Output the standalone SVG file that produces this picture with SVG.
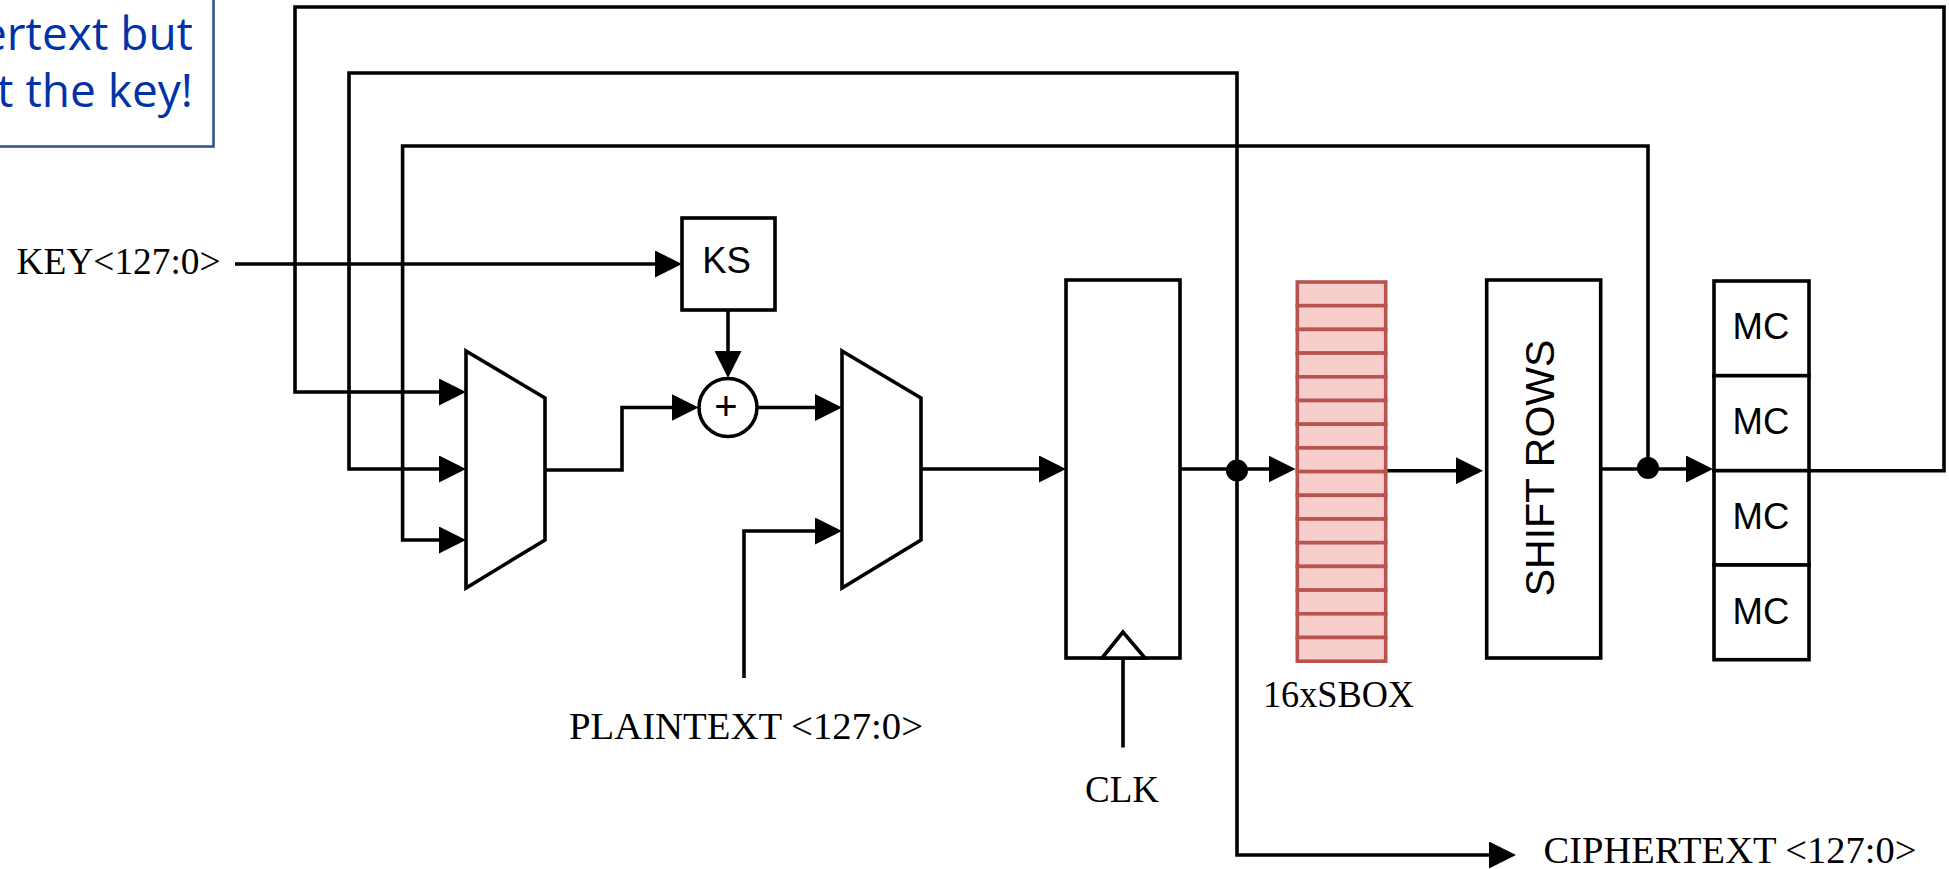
<svg xmlns="http://www.w3.org/2000/svg" width="1949" height="869" viewBox="0 0 1949 869">
<defs>
<marker id="arrow" markerUnits="userSpaceOnUse" viewBox="0 0 27 27" markerWidth="27" markerHeight="27" refX="17" refY="13.5" orient="auto"><polygon points="0,0 27,13.5 0,27" fill="#000"/></marker>
<rect id="cell" width="88.4" height="23.7" fill="#f8cecc" stroke="#b85450" stroke-width="3.6"/>
</defs>
<style>
.w{fill:none;stroke:#000;stroke-width:3.6;stroke-linejoin:miter}
.a{marker-end:url(#arrow)}
.b{fill:#fff;stroke:#000;stroke-width:3.6}
.d{fill:#000;stroke:none}
.s{font-family:"Liberation Sans",Arial,sans-serif;font-size:36.5px;fill:#000;text-anchor:middle}
.t{font-family:"Liberation Serif","Times New Roman",serif;font-size:37px;fill:#000}
.n{font-family:"Open Sans","Noto Sans",sans-serif;font-size:46px;fill:#0033a8;text-anchor:end}
</style>
<rect width="1949" height="869" fill="#fff"/>
<g id="note">
<rect x="-50" y="-50" width="263.5" height="196.5" fill="#fff" stroke="#2f5597" stroke-width="2.6"/>
<text class="n" x="193" y="50">ertext but</text>
<text class="n" x="193" y="107">t the key!</text>
</g>
<g id="connectors">
<path class="w a" d="M235 264H672"/>
<path class="w a" d="M728 310V368"/>
<path class="w a" d="M1809 470.7H1944V7H295V392H456"/>
<path class="w a" d="M1237 469V73H349V469H456"/>
<path class="w a" d="M1648 468V146H402.6V540H456"/>
<path class="w a" d="M545 470H622V407.5H688.5"/>
<path class="w a" d="M757 407.5H832"/>
<path class="w a" d="M744 678V531H832"/>
<path class="w a" d="M921 469H1056"/>
<path class="w" d="M1123 658V747.5"/>
<path class="w a" d="M1180 469H1285.5"/>
<path class="w a" d="M1237 469V855H1506"/>
<path class="w a" d="M1386 470.7H1473"/>
<path class="w a" d="M1600.7 469H1703"/>
</g>
<g id="ks"><rect class="b" x="682" y="218" width="93" height="92"/><text class="s" x="726.5" y="273">KS</text></g>
<g id="xor"><circle class="b" cx="728" cy="407.5" r="29"/><text class="s" style="font-size:40px" x="726" y="420">+</text></g>
<g id="mux1"><polygon class="b" points="466,351 545,398 545,540 466,588"/></g>
<g id="mux2"><polygon class="b" points="842,351 921,398 921,540 842,588"/></g>
<g id="register"><rect class="b" x="1066" y="280" width="114" height="378"/><polygon class="b" points="1123,632 1102,658 1145,658"/></g>
<g id="junction1"><circle class="d" cx="1237" cy="470.5" r="11"/></g>
<g id="sbox">
<use href="#cell" x="1297.3" y="282"/><use href="#cell" x="1297.3" y="305.7"/><use href="#cell" x="1297.3" y="329.4"/><use href="#cell" x="1297.3" y="353.1"/>
<use href="#cell" x="1297.3" y="376.8"/><use href="#cell" x="1297.3" y="400.5"/><use href="#cell" x="1297.3" y="424.2"/><use href="#cell" x="1297.3" y="447.9"/>
<use href="#cell" x="1297.3" y="471.6"/><use href="#cell" x="1297.3" y="495.3"/><use href="#cell" x="1297.3" y="519"/><use href="#cell" x="1297.3" y="542.7"/>
<use href="#cell" x="1297.3" y="566.4"/><use href="#cell" x="1297.3" y="590.1"/><use href="#cell" x="1297.3" y="613.8"/><use href="#cell" x="1297.3" y="637.5"/>
</g>
<g id="shiftrows"><rect class="b" x="1486.7" y="280" width="114" height="378"/><text class="s" transform="translate(1554 468) rotate(-90)" style="font-size:41px">SHIFT ROWS</text></g>
<g id="junction2"><circle class="d" cx="1648" cy="468" r="11"/></g>
<g id="mc">
<rect class="b" x="1714" y="281" width="95" height="94.7"/><rect class="b" x="1714" y="375.7" width="95" height="95"/><rect class="b" x="1714" y="470.7" width="95" height="94.3"/><rect class="b" x="1714" y="565" width="95" height="94.7"/>
<text class="s" x="1761" y="339">MC</text><text class="s" x="1761" y="434">MC</text><text class="s" x="1761" y="529">MC</text><text class="s" x="1761" y="624">MC</text>
</g>
<g id="labels">
<text class="t" x="16.6" y="274" textLength="204" lengthAdjust="spacingAndGlyphs">KEY&lt;127:0&gt;</text>
<text class="t" x="569" y="739" textLength="354" lengthAdjust="spacingAndGlyphs">PLAINTEXT &lt;127:0&gt;</text>
<text class="t" x="1085" y="802" textLength="74" lengthAdjust="spacingAndGlyphs">CLK</text>
<text class="t" x="1263" y="707" textLength="151" lengthAdjust="spacingAndGlyphs">16xSBOX</text>
<text class="t" x="1543.5" y="863" textLength="373" lengthAdjust="spacingAndGlyphs">CIPHERTEXT &lt;127:0&gt;</text>
</g>
</svg>
